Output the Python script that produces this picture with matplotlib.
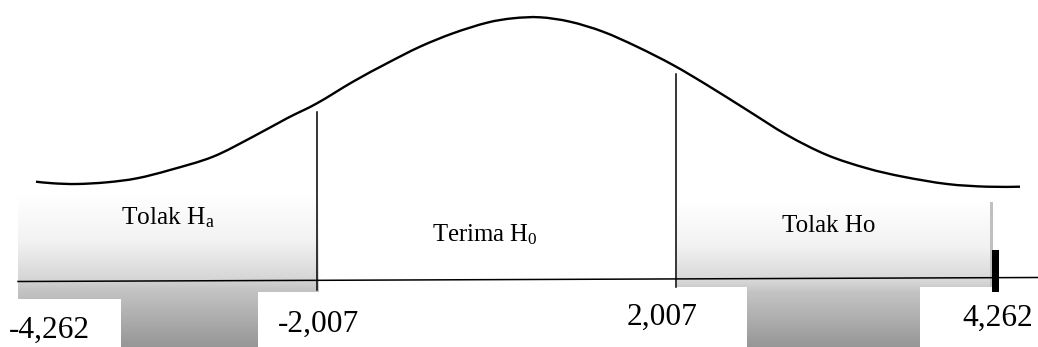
import numpy as np
import matplotlib
matplotlib.use("Agg")
import matplotlib.pyplot as plt
from matplotlib.patches import Rectangle, PathPatch
from matplotlib.path import Path

plt.rcParams['font.family'] = ['Liberation Serif', 'DejaVu Serif']
plt.rcParams['mathtext.fontset'] = 'custom'
plt.rcParams['mathtext.rm'] = 'Liberation Serif'
plt.rcParams['mathtext.it'] = 'Liberation Serif:italic'

# ---- data (pixel space of the schematic) ----
curve_x = [36, 53, 77, 107, 137, 170, 213, 253, 287, 317, 353, 387, 420, 453,
           487, 513, 540, 570, 603, 637, 673, 707, 747, 787, 827, 867, 903,
           947, 987, 1020]
curve_y = [181.7, 183.3, 184, 182.3, 178.3, 170, 156.7, 136.7, 118.3, 103.3,
           81.7, 63.3, 46.7, 33.3, 22.7, 18.3, 17.3, 21.7, 31.7, 46.7, 65, 85,
           110, 135, 155, 168.3, 176.7, 184, 186.7, 186.7]

crit_labels = ["-4,262", "-2,007", "2,007", "4,262"]
region_labels = ["Tolak H$_\\mathrm{a}$", "Terima H$_\\mathrm{0}$", "Tolak Ho"]

# ---- layout (pixels) ----
W, H = 1038, 347
fig = plt.figure(figsize=(W / 100, H / 100), dpi=100)
ax = fig.add_axes([0, 0, 1, 1])
ax.set_xlim(0, W)
ax.set_ylim(H, 0)
ax.axis('off')

def gradient_box(x0, x1, ytop, ybot):
    n = 200
    t = np.linspace(0, 1, n)
    stops_t = [0.0, 0.3, 0.55, 0.62, 1.0]
    stops_v = [1.0, 0.95, 0.84, 0.77, 0.59]
    v = np.interp(t, stops_t, stops_v)
    img = np.repeat(v[:, None, None], 3, axis=2)
    ax.imshow(img, extent=(x0, x1, ybot, ytop), origin='upper',
              aspect='auto', interpolation='bilinear', zorder=1)

gradient_box(18, 319, 195, H)
gradient_box(677, 991, 202, H)
ax.set_xlim(0, W)
ax.set_ylim(H, 0)

# gray right edge of the right box
ax.add_patch(Rectangle((990, 202), 3, 85, facecolor='#c0c0c0',
                       edgecolor='none', zorder=2))

# white label boxes
for (x0, y0, w, h) in [(0, 299, 121, 60), (258, 292, 160, 60),
                       (600, 287, 147, 60), (920, 287, 118, 60)]:
    ax.add_patch(Rectangle((x0, y0), w, h, facecolor='white',
                           edgecolor='none', zorder=3))

# curve: smooth path passing through the read points (Catmull-Rom as Bezier)
pts = np.column_stack([curve_x, curve_y]).astype(float)
verts = [pts[0]]
codes = [Path.MOVETO]
for i in range(len(pts) - 1):
    p0 = pts[i - 1] if i > 0 else pts[i]
    p1 = pts[i]
    p2 = pts[i + 1]
    p3 = pts[i + 2] if i + 2 < len(pts) else pts[i + 1]
    c1 = p1 + (p2 - p0) / 6.0
    c2 = p2 - (p3 - p1) / 6.0
    verts += [c1, c2, p2]
    codes += [Path.CURVE4] * 3
ax.add_patch(PathPatch(Path(verts, codes), facecolor='none',
                       edgecolor='black', lw=1.7, zorder=5))

# axis line
ax.plot([18, W], [281.5, 277.5], color='black', lw=1.1, zorder=5)

# critical vertical lines
ax.plot([317, 317], [112, 290], color='black', lw=1.1, zorder=5)
ax.plot([676, 676], [74, 287], color='black', lw=1.1, zorder=5)
# thick tick at the right end
ax.add_patch(Rectangle((992, 250), 6.5, 42, facecolor='black',
                       edgecolor='none', zorder=6))

# region labels
ax.text(121, 224, region_labels[0], fontsize=18.3, ha='left', va='baseline', zorder=7)
ax.text(432, 241, region_labels[1], fontsize=17.8, ha='left', va='baseline', zorder=7)
ax.text(782, 232, region_labels[2], fontsize=18, ha='left', va='baseline', zorder=7)

# critical value labels
ax.text(9, 338, crit_labels[0], fontsize=22.6, ha='left', va='baseline', zorder=7)
ax.text(278, 332, crit_labels[1], fontsize=22.6, ha='left', va='baseline', zorder=7)
ax.text(697, 325, crit_labels[2], fontsize=22.6, ha='right', va='baseline', zorder=7)
ax.text(962, 326, crit_labels[3], fontsize=22.6, ha='left', va='baseline', zorder=7)

fig.savefig('out.png', dpi=100, facecolor='white')
